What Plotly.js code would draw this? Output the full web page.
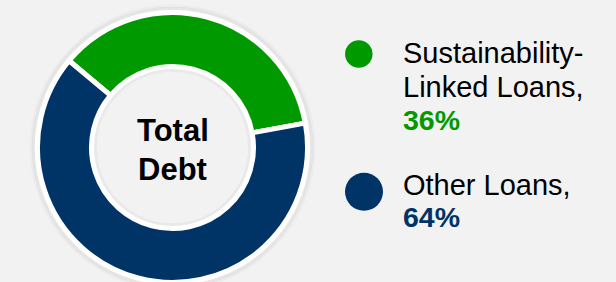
<!DOCTYPE html>
<html>
<head>
<meta charset="utf-8">
<script src="https://cdn.plot.ly/plotly-3.0.1.min.js"></script>
<style>
  html, body { margin: 0; padding: 0; background: #f2f2f2; overflow: hidden; }
  #chart { width: 616px; height: 290px; }
</style>
</head>
<body>
<div id="chart"></div>
<script>
// ---- data ----
var categories = ["Sustainability-Linked Loans", "Other Loans"];
var values = [36, 64];
var colors = ["#009900", "#003366"];
var legendLines = [["Sustainability-", "Linked Loans,"], ["Other Loans,"]];
var centerLines = ["Total", "Debt"];

// ---- layout helpers (pixel -> paper) ----
var W = 616, H = 290;
function px(x) { return x / W; }
function py(y) { return 1 - y / H; }

var cx = 172.5, cy = 147.5, R = 135;
var FONT = "Liberation Sans, Arial, sans-serif";

var trace = {
  type: "pie",
  labels: categories,
  values: values,
  sort: false,
  direction: "clockwise",
  rotation: -50,
  hole: 0.6,
  marker: { colors: colors, line: { color: "#ffffff", width: 5 } },
  textinfo: "none",
  hoverinfo: "label+percent",
  showlegend: false,
  domain: { x: [px(cx - R), px(cx + R)], y: [py(cy + R), py(cy - R)] }
};

function circ(r, opts) {
  var s = {
    type: "circle", xref: "paper", yref: "paper",
    x0: px(cx - r), x1: px(cx + r), y0: py(cy + r), y1: py(cy - r)
  };
  for (var k in opts) s[k] = opts[k];
  return s;
}

var shapes = [
  // soft shadow outside the white rim
  circ(141.5, { layer: "below", fillcolor: "rgba(0,0,0,0)", line: { color: "rgba(0,0,0,0.025)", width: 3 } }),
  circ(139.3, { layer: "below", fillcolor: "rgba(0,0,0,0)", line: { color: "rgba(0,0,0,0.05)", width: 3 } }),
  // soft shadow inside the hole
  circ(77, { layer: "above", fillcolor: "rgba(0,0,0,0)", line: { color: "rgba(0,0,0,0.035)", width: 3 } })
];

// legend markers
var markerPos = [{ x: 358.8, y: 54, d: 27.5 }, { x: 364, y: 191.7, d: 38 }];
markerPos.forEach(function (m, i) {
  shapes.push({
    type: "circle", xref: "paper", yref: "paper", layer: "above",
    x0: px(m.x - m.d / 2), x1: px(m.x + m.d / 2),
    y0: py(m.y + m.d / 2), y1: py(m.y - m.d / 2),
    fillcolor: colors[i], line: { width: 0 }
  });
});

var annotations = [];
// center text
var centerY = [130.3, 169.3];
centerLines.forEach(function (t, i) {
  annotations.push({
    text: "<b>" + t + "</b>", x: px(cx), y: py(centerY[i]),
    xref: "paper", yref: "paper", xanchor: "center", yanchor: "middle",
    showarrow: false, font: { family: FONT, size: 31, color: "#000000" }
  });
});

// legend text
var lineY = [[53.4, 86.8, 120.1], [185.1, 216.8]];
var textX = 401;
legendLines.forEach(function (lines, i) {
  var ys = lineY[i];
  lines.forEach(function (t, j) {
    annotations.push({
      text: t, x: px(textX), y: py(ys[j]),
      xref: "paper", yref: "paper", xanchor: "left", yanchor: "middle",
      showarrow: false, font: { family: FONT, size: 29, color: "#000000" }
    });
  });
  annotations.push({
    text: "<b>" + values[i] + "%</b>", x: px(textX), y: py(ys[lines.length]),
    xref: "paper", yref: "paper", xanchor: "left", yanchor: "middle",
    showarrow: false, font: { family: FONT, size: 28.5, color: colors[i] }
  });
});

var layout = {
  width: W, height: H,
  margin: { l: 0, r: 0, t: 0, b: 0 },
  paper_bgcolor: "#f2f2f2",
  plot_bgcolor: "#f2f2f2",
  showlegend: false,
  shapes: shapes,
  annotations: annotations
};

Plotly.newPlot("chart", [trace], layout, { displayModeBar: false, staticPlot: true });
</script>
</body>
</html>
